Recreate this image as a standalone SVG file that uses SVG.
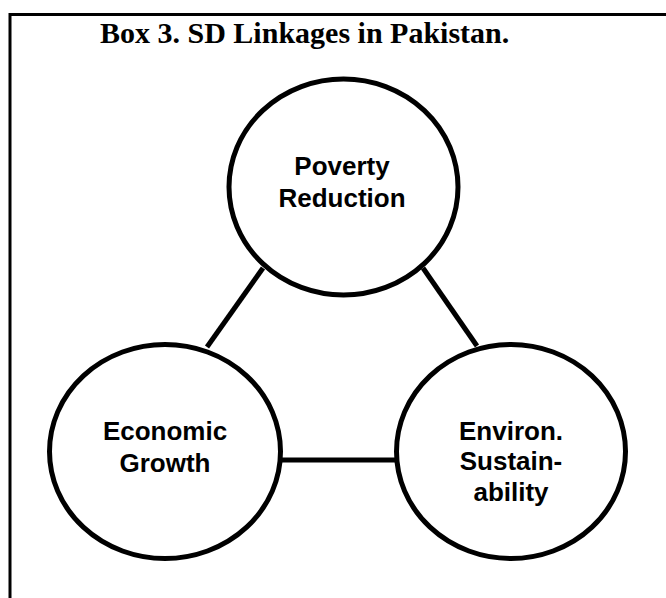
<svg xmlns="http://www.w3.org/2000/svg" width="666" height="598" viewBox="0 0 666 598">
<style>
.node ellipse{fill:#fff;stroke:#000;stroke-width:5}
.lbl{font-family:"Liberation Sans",Arial,sans-serif;font-weight:bold;font-size:26px;fill:#000;text-anchor:middle}
.title{font-family:"Liberation Serif","Times New Roman",serif;font-weight:bold;font-size:30px;fill:#000}
.conn line{stroke:#000;stroke-width:5}
</style>
<rect width="666" height="598" fill="#fff"/>
<g id="frame">
<line x1="10" y1="14.5" x2="666" y2="14.5" stroke="#000" stroke-width="3"/>
<line x1="10" y1="13" x2="10" y2="598" stroke="#000" stroke-width="3"/>
</g>
<text class="title" x="100" y="43">Box 3. SD Linkages in Pakistan.</text>
<g id="connectors" class="conn">
<line x1="263" y1="268" x2="207" y2="347"/>
<line x1="423" y1="268" x2="477" y2="346"/>
<line x1="280" y1="460" x2="398" y2="460"/>
</g>
<g id="poverty" class="node">
<ellipse cx="343.5" cy="187" rx="114.5" ry="108"/>
<text class="lbl" x="342" y="175">Poverty</text>
<text class="lbl" x="342" y="207">Reduction</text>
</g>
<g id="economic" class="node">
<ellipse cx="165" cy="451.5" rx="115.5" ry="107"/>
<text class="lbl" x="165" y="440">Economic</text>
<text class="lbl" x="165" y="472">Growth</text>
</g>
<g id="environ" class="node">
<ellipse cx="511" cy="451.5" rx="114.5" ry="107"/>
<text class="lbl" x="511" y="440">Environ.</text>
<text class="lbl" x="511" y="470">Sustain-</text>
<text class="lbl" x="511" y="501">ability</text>
</g>
</svg>
